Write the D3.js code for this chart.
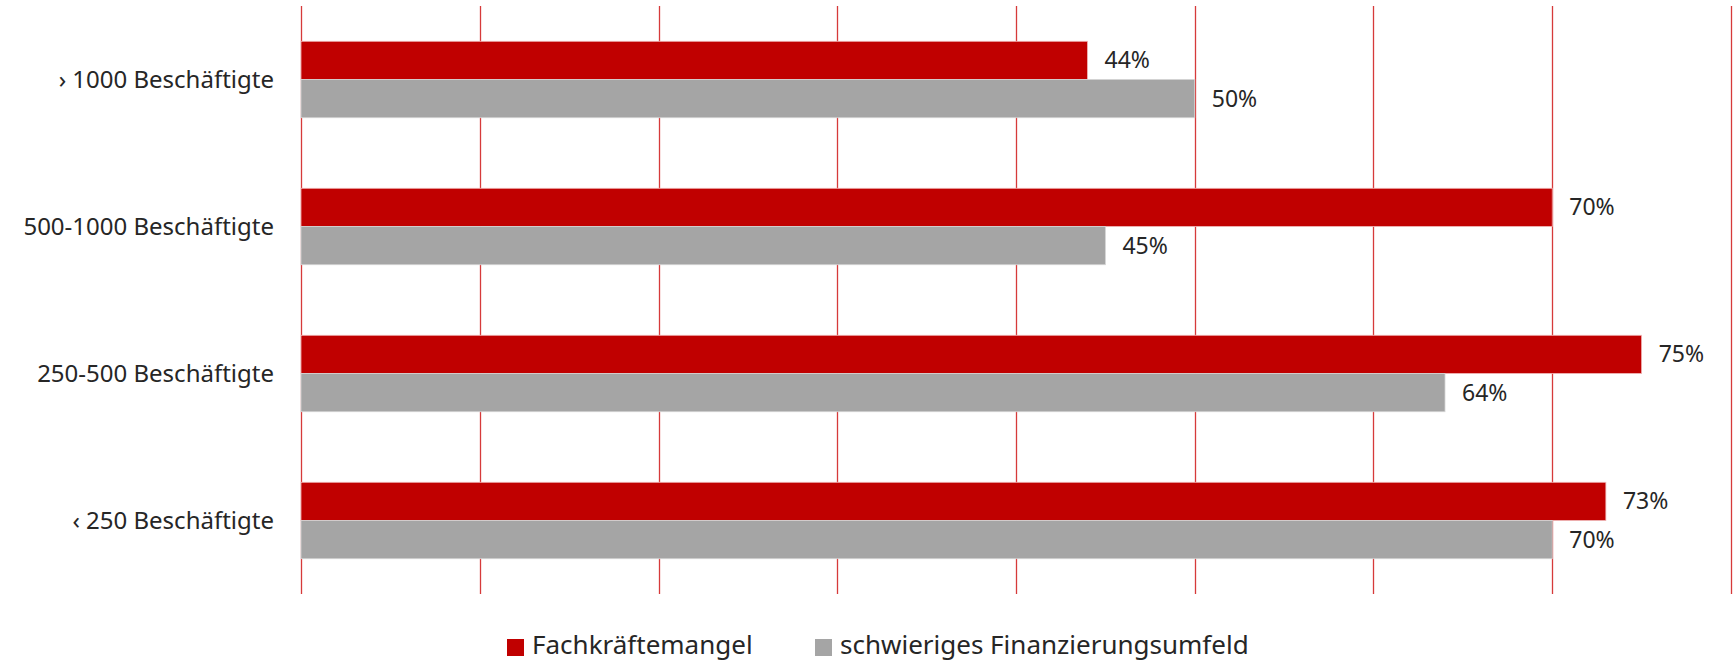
<!DOCTYPE html>
<html>
<head>
<meta charset="utf-8">
<script src="https://cdn.jsdelivr.net/npm/d3@7"></script>
<style>
    body { margin: 0; background: #fff; }
    svg text { font-family: "Noto Sans", "Open Sans", sans-serif; fill: #262626; }
</style>
</head>
<body>
<svg id="chart" width="1733" height="663"></svg>
<script>
// data
const categories = [
    "› 1000 Beschäftigte",
    "500-1000 Beschäftigte",
    "250-500 Beschäftigte",
    "‹ 250 Beschäftigte"
];
const seriesNames = ["Fachkräftemangel", "schwieriges Finanzierungsumfeld"];
const fachkraefte = [0.44, 0.70, 0.75, 0.73];
const finanzierung = [0.50, 0.45, 0.64, 0.70];
const xTicks = [0, 0.1, 0.2, 0.3, 0.4, 0.5, 0.6, 0.7, 0.8];

const colors = ["#c00000", "#a5a5a5"];
const strokes = ["#f0b8b8", "#d4d4d4"];

const margin = { top: 6, left: 301, right: 2, bottom: 69 };
const width = 1733, height = 663;

const svg = d3.select("#chart");

// scales
const x = d3.scaleLinear()
    .domain([0, 0.8])
    .range([margin.left, width - margin.right]);

const y = d3.scaleBand()
    .domain(categories)
    .range([margin.top, height - margin.bottom])
    .paddingInner(0.48)
    .paddingOuter(0.24);

const ySub = d3.scaleBand()
    .domain(seriesNames)
    .range([0, y.bandwidth()]);

// grid
svg.append("g")
    .selectAll("line")
    .data(xTicks)
    .join("line")
    .attr("x1", d => Math.round(x(d)) + 0.5)
    .attr("x2", d => Math.round(x(d)) + 0.5)
    .attr("y1", margin.top)
    .attr("y2", height - margin.bottom)
    .attr("stroke", "#d63a3a")
    .attr("stroke-width", 1.3);

// bars
const rows = categories.map((c, i) => ({
    category: c,
    values: [
        { series: seriesNames[0], value: fachkraefte[i], idx: 0 },
        { series: seriesNames[1], value: finanzierung[i], idx: 1 }
    ]
}));

const groups = svg.append("g")
    .selectAll("g")
    .data(rows)
    .join("g")
    .attr("transform", d => `translate(0,${y(d.category)})`);

groups.selectAll("rect")
    .data(d => d.values)
    .join("rect")
    .attr("x", x(0))
    .attr("y", d => ySub(d.series))
    .attr("width", d => x(d.value) - x(0))
    .attr("height", ySub.bandwidth())
    .attr("fill", d => colors[d.idx])
    .attr("stroke", d => strokes[d.idx])
    .attr("stroke-width", 0.8);

// value labels
groups.selectAll("text")
    .data(d => d.values)
    .join("text")
    .attr("x", d => x(d.value) + 17)
    .attr("y", d => ySub(d.series) + ySub.bandwidth() / 2)
    .attr("dy", "0.35em")
    .style("font-size", "23px")
    .text(d => Math.round(d.value * 100) + "%");

// category labels
svg.append("g")
    .selectAll("text")
    .data(categories)
    .join("text")
    .attr("x", x(0) - 27)
    .attr("y", d => y(d) + y.bandwidth() / 2)
    .attr("dy", "0.35em")
    .attr("text-anchor", "end")
    .style("font-size", "24px")
    .text(d => d);

// legend
const legendX = [507, 815];
const legend = svg.append("g")
    .selectAll("g")
    .data(seriesNames)
    .join("g")
    .attr("transform", (d, i) => `translate(${legendX[i]},639)`);

legend.append("rect")
    .attr("width", 17)
    .attr("height", 17)
    .attr("fill", (d, i) => colors[i]);

legend.append("text")
    .attr("x", 25)
    .attr("y", 15)
    .style("font-size", "26px")
    .text(d => d);
</script>
</body>
</html>
